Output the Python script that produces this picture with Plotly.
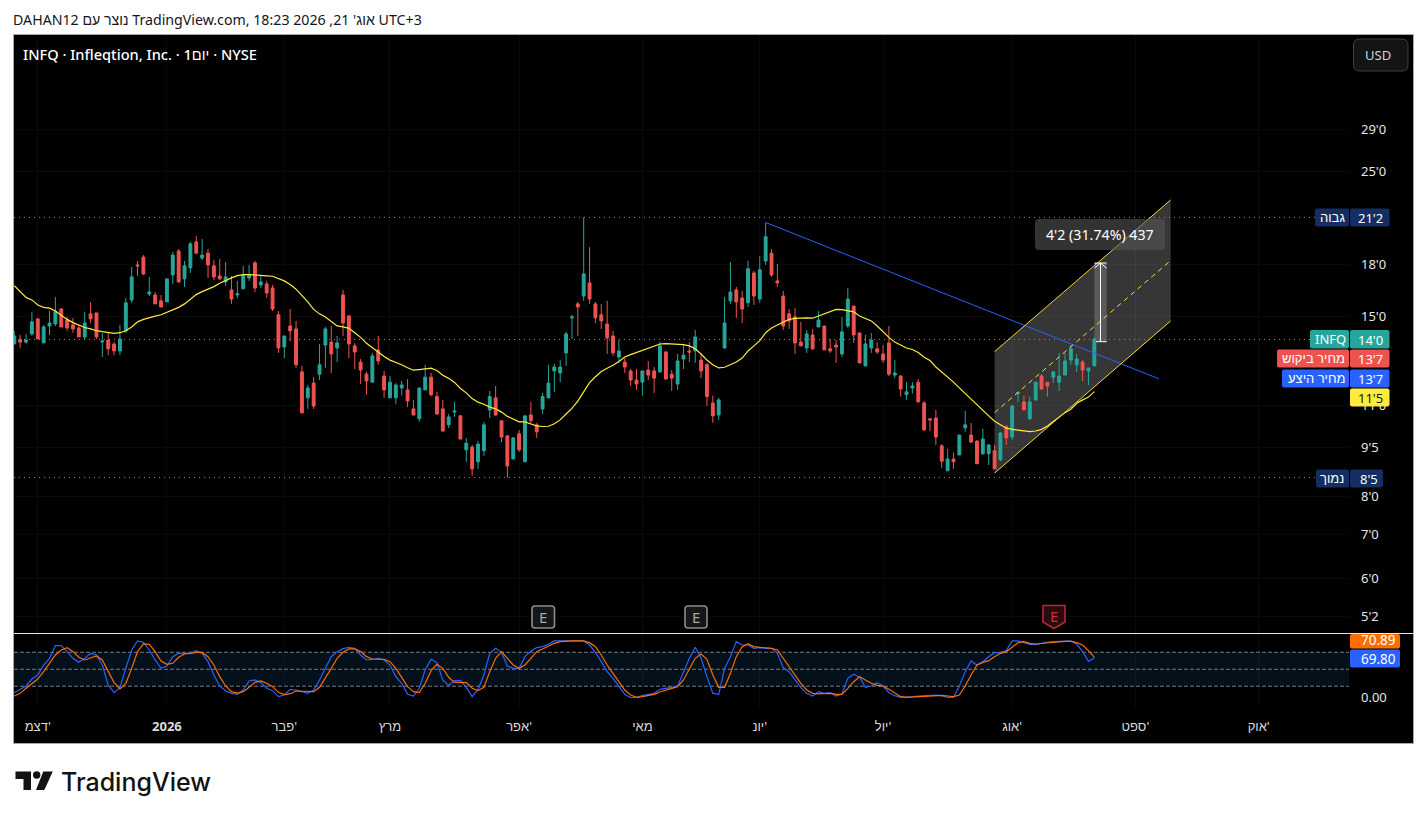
"""
INFQ daily chart with moving average, drawings and stochastic pane.
"""

import plotly.graph_objects as go
from plotly.subplots import make_subplots

WIDTH = 1427
HEIGHT = 819

# daily bars
open_px = [
    13.64, 13.86, 13.73, 14.13, 14.90, 13.69, 14.53, 14.63, 15.42, 14.84,
    14.58, 14.43, 13.98, 15.16, 15.21, 13.73, 13.83, 13.64, 13.31, 14.28,
    15.92, 18.00, 18.50, 16.26, 16.20, 15.87, 15.81, 17.38, 18.90, 17.14,
    17.82, 19.51, 18.44, 18.76, 17.94, 17.32, 16.96, 16.49, 16.20, 16.55,
    17.20, 18.13, 16.78, 16.84, 16.60, 15.11, 13.50, 14.53, 14.38, 12.37,
    11.29, 11.89, 12.27, 13.59, 13.73, 13.45, 16.20, 15.05, 13.55, 12.80,
    12.27, 11.93, 13.36, 12.19, 11.29, 11.29, 11.69, 11.61, 10.86, 10.49,
    11.61, 12.14, 11.34, 10.86, 10.27, 10.74, 10.60, 9.41, 9.50, 9.02,
    9.38, 10.82, 11.29, 10.42, 9.88, 9.11, 9.95, 9.02, 10.63, 10.27,
    10.86, 11.29, 12.41, 12.32, 13.22, 14.95, 15.70, 16.14, 16.90, 15.70,
    15.11, 14.63, 14.03, 13.03, 12.80, 12.41, 12.02, 11.93, 12.45, 12.41,
    12.37, 13.26, 12.27, 11.85, 12.94, 13.31, 13.31, 12.89, 12.68, 11.09,
    10.63, 13.45, 15.87, 16.49, 16.03, 15.76, 17.50, 15.97, 18.25, 18.76,
    17.02, 16.14, 15.16, 15.00, 13.73, 13.45, 14.08, 14.48, 14.53, 13.41,
    13.59, 13.17, 14.53, 15.58, 14.18, 12.63, 13.45, 13.41, 13.17, 13.69,
    12.23, 12.19, 11.42, 11.69, 11.93, 11.09, 10.49, 10.52, 9.54, 8.74,
    9.11, 9.24, 10.16, 9.91, 9.70, 9.28, 9.28, 9.38, 9.08, 10.20,
    9.84, 11.46, 11.13, 10.49, 11.21, 12.19, 11.93, 12.14, 11.93, 12.23,
    12.89, 12.68, 12.80, 12.41, 12.63,
]
high_px = [
    14.28, 14.08, 14.13, 15.27, 14.90, 14.58, 15.31, 16.08, 15.47, 15.00,
    14.95, 14.58, 15.27, 15.81, 15.21, 14.18, 14.23, 13.73, 14.58, 16.03,
    17.88, 18.25, 18.63, 17.26, 16.37, 16.20, 17.14, 18.83, 19.03, 18.25,
    19.51, 19.93, 19.71, 19.03, 18.31, 18.38, 18.19, 17.32, 17.02, 17.94,
    18.00, 18.25, 17.32, 17.02, 16.78, 15.31, 14.03, 15.42, 14.79, 12.63,
    11.81, 12.14, 13.64, 14.48, 14.53, 14.03, 16.49, 15.11, 13.69, 12.94,
    12.37, 13.22, 14.03, 12.41, 12.19, 11.89, 11.98, 12.06, 11.21, 11.69,
    12.68, 12.32, 11.53, 11.21, 10.67, 11.13, 10.63, 9.81, 9.57, 9.70,
    10.38, 11.57, 11.77, 10.42, 9.91, 9.84, 10.09, 10.60, 11.13, 10.34,
    11.49, 12.68, 12.72, 12.89, 14.23, 15.11, 15.81, 21.28, 19.15, 15.81,
    15.70, 15.87, 14.28, 13.83, 12.98, 12.49, 12.49, 12.41, 12.85, 12.58,
    13.73, 13.31, 12.45, 13.17, 13.64, 13.73, 14.33, 13.17, 12.76, 11.38,
    11.29, 16.08, 18.19, 16.66, 16.43, 18.25, 17.63, 18.57, 20.88, 19.03,
    18.07, 16.43, 15.42, 15.47, 14.74, 14.33, 14.38, 15.31, 14.53, 13.88,
    13.83, 15.00, 16.60, 15.58, 14.18, 14.08, 14.18, 13.73, 13.59, 14.53,
    12.89, 12.23, 11.93, 11.93, 12.06, 11.17, 10.49, 10.82, 9.60, 9.44,
    9.32, 9.91, 10.78, 10.34, 9.74, 10.13, 9.60, 9.57, 10.02, 10.27,
    11.01, 11.53, 11.38, 11.34, 11.93, 12.27, 11.93, 12.37, 13.22, 13.22,
    13.59, 13.17, 12.89, 12.54, 13.98,
]
low_px = [
    13.64, 13.45, 13.66, 14.03, 13.88, 13.69, 14.08, 14.53, 14.48, 14.29,
    14.18, 13.98, 13.83, 14.68, 13.88, 13.03, 13.12, 13.12, 13.12, 14.18,
    15.76, 17.32, 17.38, 16.14, 15.70, 15.53, 15.81, 16.84, 16.90, 16.66,
    17.50, 18.70, 18.31, 17.20, 17.08, 17.08, 16.72, 15.70, 16.03, 16.55,
    17.02, 16.37, 16.60, 16.03, 15.31, 13.22, 12.98, 13.78, 12.54, 10.71,
    10.86, 10.86, 12.02, 12.54, 12.32, 12.80, 14.03, 12.98, 12.49, 11.85,
    11.42, 11.93, 12.68, 11.29, 11.29, 11.05, 11.38, 10.93, 10.63, 10.38,
    11.61, 11.34, 10.63, 10.02, 10.16, 10.56, 9.77, 9.02, 8.59, 8.80,
    9.21, 10.52, 10.60, 9.67, 8.53, 9.11, 9.34, 9.02, 10.34, 9.81,
    10.67, 11.29, 11.53, 11.93, 12.63, 13.88, 14.03, 15.87, 15.70, 14.68,
    14.38, 13.17, 13.08, 12.76, 12.32, 11.77, 11.61, 11.38, 12.02, 11.49,
    12.32, 12.06, 11.57, 11.61, 12.49, 12.80, 12.76, 12.10, 10.97, 10.34,
    10.45, 13.41, 15.70, 14.95, 14.68, 15.53, 15.64, 15.76, 18.00, 17.26,
    16.66, 14.33, 14.38, 13.17, 13.55, 13.22, 13.36, 14.48, 13.36, 13.22,
    12.76, 13.03, 14.43, 13.69, 12.76, 12.63, 13.22, 13.17, 12.76, 12.19,
    12.10, 11.34, 11.21, 11.46, 11.13, 10.05, 10.05, 9.57, 8.83, 8.74,
    8.80, 9.24, 10.02, 9.63, 8.96, 9.24, 8.92, 8.80, 9.04, 9.57,
    9.74, 11.13, 10.82, 10.45, 11.17, 11.61, 11.34, 11.88, 11.57, 12.23,
    12.68, 12.37, 11.98, 11.81, 12.63,
]
close_px = [
    14.03, 13.73, 13.83, 14.74, 13.88, 14.48, 14.68, 15.28, 14.48, 14.43,
    14.38, 13.98, 14.68, 14.90, 13.98, 13.78, 13.41, 13.31, 13.88, 15.76,
    17.26, 17.94, 17.44, 16.37, 15.70, 15.53, 17.14, 18.63, 16.96, 17.94,
    19.38, 18.76, 18.63, 18.00, 17.26, 17.14, 17.26, 15.97, 16.26, 17.38,
    17.38, 16.60, 16.96, 16.31, 15.42, 13.45, 14.03, 14.28, 12.68, 10.71,
    11.69, 10.97, 12.68, 14.38, 13.17, 13.69, 14.68, 13.64, 13.26, 12.45,
    11.98, 13.08, 12.85, 11.61, 11.93, 11.81, 11.81, 11.17, 10.63, 11.69,
    12.14, 11.42, 10.67, 10.05, 10.56, 10.78, 9.77, 9.63, 8.80, 9.60,
    10.27, 11.34, 10.63, 9.84, 8.89, 9.81, 9.41, 10.60, 10.42, 10.02,
    11.34, 11.89, 12.58, 12.58, 14.13, 15.00, 15.53, 17.44, 15.97, 14.95,
    14.79, 13.93, 13.22, 13.31, 12.58, 12.02, 11.85, 12.41, 12.23, 12.10,
    13.55, 12.06, 12.10, 12.85, 13.12, 13.26, 13.98, 12.41, 11.34, 10.60,
    11.21, 14.68, 16.37, 15.81, 15.42, 17.76, 16.14, 17.69, 19.87, 17.38,
    16.90, 14.53, 14.79, 13.69, 13.55, 14.13, 13.41, 14.84, 13.36, 13.31,
    13.50, 14.23, 15.97, 14.08, 12.76, 13.64, 13.83, 13.26, 12.89, 12.27,
    12.32, 11.65, 11.53, 11.77, 11.13, 10.09, 10.45, 9.84, 9.04, 9.11,
    9.02, 9.91, 10.27, 9.67, 8.96, 9.77, 9.57, 8.80, 9.98, 9.81,
    10.97, 11.49, 10.82, 11.13, 11.93, 11.65, 11.77, 12.37, 12.19, 12.85,
    13.41, 12.94, 12.45, 12.54, 13.88,
]
moving_avg = [
    16.74, 16.41, 16.06, 15.92, 15.64, 15.51, 15.47, 15.31, 15.07, 14.87,
    14.70, 14.56, 14.45, 14.38, 14.29, 14.24, 14.21, 14.16, 14.19, 14.29,
    14.48, 14.74, 14.87, 14.97, 15.04, 15.11, 15.25, 15.37, 15.51, 15.70,
    15.96, 16.22, 16.39, 16.53, 16.68, 16.88, 17.06, 17.20, 17.34, 17.40,
    17.40, 17.36, 17.32, 17.32, 17.30, 17.16, 17.02, 16.80, 16.53, 16.16,
    15.81, 15.40, 15.16, 14.99, 14.76, 14.53, 14.48, 14.41, 14.19, 13.96,
    13.67, 13.45, 13.24, 13.05, 12.89, 12.79, 12.68, 12.55, 12.44, 12.47,
    12.51, 12.53, 12.43, 12.22, 12.09, 11.92, 11.67, 11.49, 11.26, 11.12,
    11.04, 10.93, 10.86, 10.74, 10.58, 10.49, 10.38, 10.38, 10.31, 10.23,
    10.21, 10.22, 10.31, 10.45, 10.67, 10.88, 11.16, 11.55, 11.91, 12.16,
    12.38, 12.53, 12.66, 12.83, 13.03, 13.14, 13.24, 13.33, 13.44, 13.55,
    13.64, 13.66, 13.64, 13.63, 13.61, 13.55, 13.41, 13.17, 12.89, 12.68,
    12.54, 12.57, 12.69, 12.80, 12.98, 13.31, 13.55, 13.80, 14.19, 14.43,
    14.58, 14.74, 14.87, 14.92, 14.95, 14.95, 14.93, 15.04, 15.16, 15.27,
    15.40, 15.39, 15.35, 15.27, 15.05, 14.92, 14.79, 14.53, 14.23, 13.96,
    13.73, 13.58, 13.45, 13.38, 13.24, 13.02, 12.87, 12.58, 12.37, 12.14,
    11.93, 11.69, 11.46, 11.21, 11.01, 10.80, 10.60, 10.40, 10.27, 10.15,
    10.11, 10.09, 10.05, 10.03, 10.05, 10.11, 10.23, 10.39, 10.57, 10.72,
    10.85, 11.08, 11.21, 11.32, 11.54,
]
stoch_k = [
    8.7, 14.6, 20.5, 32.8, 39.9, 57.5, 69.3, 91.6, 91.6, 81.1,
    69.3, 62.2, 69.3, 78.1, 75.2, 57.5, 22.2, 8.7, 18.1, 51.6,
    84.0, 100.0, 97.5, 84.0, 66.4, 51.6, 55.8, 72.2, 78.1, 78.1,
    78.1, 82.8, 78.1, 63.4, 39.9, 20.5, 12.2, 7.5, 5.8, 13.4,
    29.3, 31.1, 26.4, 16.4, 12.2, 1.6, 4.6, 14.6, 13.4, 10.5,
    7.5, 13.4, 31.1, 51.6, 72.2, 81.1, 86.4, 88.7, 86.9, 75.2,
    66.4, 67.5, 69.3, 66.4, 57.5, 36.9, 25.2, 5.8, 2.8, 16.4,
    48.7, 67.5, 61.6, 31.1, 21.6, 29.9, 30.5, 18.1, 1.6, 14.6,
    39.9, 78.1, 86.9, 79.9, 55.8, 51.6, 51.6, 72.2, 82.2, 88.1,
    89.9, 94.0, 100.0, 100.0, 100.0, 100.0, 100.0, 100.0, 92.8, 79.9,
    63.4, 45.8, 34.0, 19.3, 5.8, 0.0, 0.5, 3.4, 5.8, 7.5,
    14.6, 15.8, 18.1, 20.5, 44.6, 69.3, 88.7, 69.3, 36.9, 7.5,
    5.8, 51.6, 72.2, 98.7, 92.8, 92.8, 86.9, 88.1, 86.9, 86.9,
    78.1, 52.8, 45.8, 31.1, 17.5, 7.5, 2.8, 10.5, 7.5, 8.7,
    2.8, 6.4, 34.0, 41.1, 35.8, 18.1, 20.5, 26.4, 20.5, 8.7,
    3.4, 0.5, 0.5, 1.6, 2.8, 3.4, 4.6, 4.6, 3.4, 0.5,
    0.5, 20.5, 45.8, 64.6, 57.5, 63.4, 72.2, 79.3, 79.3, 82.8,
    100.0, 100.0, 96.9, 94.0, 93.4, 95.8, 98.1, 98.7, 98.7, 99.3,
    99.9, 94.0, 81.1, 64.0, 69.8,
]
stoch_d = [
    2.8, 7.5, 16.4, 25.2, 32.8, 45.8, 60.5, 75.2, 84.0, 88.1,
    81.1, 71.1, 66.4, 69.3, 73.4, 66.4, 45.8, 26.4, 15.2, 25.2,
    51.6, 81.1, 94.6, 94.0, 81.1, 64.6, 58.7, 60.5, 71.1, 76.9,
    78.1, 79.9, 79.9, 72.2, 57.5, 36.9, 20.5, 10.5, 8.1, 10.5,
    18.1, 26.9, 29.3, 25.2, 19.3, 9.3, 5.2, 6.9, 11.6, 11.6,
    10.5, 10.5, 18.1, 34.0, 51.6, 69.3, 79.9, 85.8, 85.8, 81.1,
    72.2, 68.1, 68.1, 67.5, 63.4, 51.6, 35.8, 19.3, 10.5, 8.7,
    25.2, 47.5, 58.7, 51.6, 35.8, 26.9, 26.9, 26.4, 16.4, 12.2,
    18.1, 45.8, 69.3, 81.1, 69.3, 57.5, 51.6, 57.5, 69.3, 81.1,
    85.8, 91.1, 95.8, 98.7, 100.0, 100.0, 100.0, 100.0, 96.9, 89.9,
    75.2, 57.5, 42.8, 28.1, 13.4, 4.6, 0.5, 1.6, 3.4, 5.8,
    9.9, 13.4, 16.4, 19.3, 31.1, 51.6, 69.3, 76.9, 67.5, 39.9,
    18.1, 18.1, 42.8, 72.2, 89.9, 94.6, 89.9, 88.7, 87.5, 86.9,
    84.0, 69.3, 54.6, 39.9, 25.2, 13.4, 7.5, 6.4, 7.5, 7.5,
    5.8, 5.8, 16.4, 28.1, 36.9, 31.1, 25.2, 21.6, 20.5, 14.6,
    7.5, 1.6, 0.5, 1.1, 1.6, 2.8, 3.4, 4.6, 4.0, 2.8,
    1.6, 4.6, 20.5, 39.9, 57.5, 62.2, 65.2, 72.2, 78.1, 81.1,
    89.9, 97.0, 98.7, 95.8, 94.6, 95.8, 97.0, 97.5, 98.7, 99.3,
    99.3, 96.9, 92.8, 82.8, 70.9,
]
bars = list(range(len(close_px)))

# axis labels
month_bars = [4, 26, 46, 64, 86, 107, 127, 148, 170, 191, 212]
month_labels = ["דצמ'", "<b>2026</b>", "פבר'", "מרץ", "אפר'", "מאי", "יונ'", "יול'", "אוג'", "ספט'", "אוק'"]
price_ticks = [29, 25, 18, 15, 11, 9.5, 8, 7, 6, 5.25]
price_tick_labels = ["29'0", "25'0", "18'0", "15'0", "11'0", "9'5", "8'0", "7'0", "6'0", "5'2"]
stoch_levels = [20, 50, 80]

# reference levels
high_level = 21.27
low_level = 8.54
last_level = 13.86

# drawings
trend_x = [128.06, 195.0]
trend_y = [20.88, 12.07]
channel_x = [167.0, 197.0]
channel_upper = [13.28, 22.61]
channel_mid = [10.72, 18.28]
channel_lower = [8.67, 14.79]
measure_x = [184.0, 186.1]
measure_y = [13.75, 18.12]

UP = "#26a69a"
DOWN = "#ef5350"
BLUE = "#2962ff"
ORANGE = "#ff6d00"
YELLOW = "#f5d93a"
NAVY = "#142e61"
GRID = "rgba(255,255,255,0.035)"
FONT = "Noto Sans, Liberation Sans, DejaVu Sans, sans-serif"


def px(x):
    return x / WIDTH


def py(y):
    return 1 - y / HEIGHT


def rounded_path(x0, y0, x1, y1, r):
    return (
        f"M {px(x0 + r)},{py(y0)} L {px(x1 - r)},{py(y0)} Q {px(x1)},{py(y0)} {px(x1)},{py(y0 + r)} "
        f"L {px(x1)},{py(y1 - r)} Q {px(x1)},{py(y1)} {px(x1 - r)},{py(y1)} "
        f"L {px(x0 + r)},{py(y1)} Q {px(x0)},{py(y1)} {px(x0)},{py(y1 - r)} "
        f"L {px(x0)},{py(y0 + r)} Q {px(x0)},{py(y0)} {px(x0 + r)},{py(y0)} Z"
    )


def add_box(fig, x0, y0, x1, y1, color, r=2, border=None, border_width=1):
    fig.add_shape(
        type="path", path=rounded_path(x0, y0, x1, y1, r), xref="paper", yref="paper",
        fillcolor=color, line=dict(color=border or color, width=border_width if border else 0), layer="above",
    )


def add_text(fig, x, y, text, color="#ffffff", size=13, anchor="center", family=FONT, weight=None):
    fig.add_annotation(
        x=px(x), y=py(y), xref="paper", yref="paper", text=text, showarrow=False,
        xanchor=anchor, yanchor="middle", borderpad=0,
        font=dict(color=color, size=size, family=family, weight=weight),
    )


fig = make_subplots(rows=2, cols=1, shared_xaxes=True, vertical_spacing=0)

# main pane
fig.add_trace(go.Candlestick(
    x=bars, open=open_px, high=high_px, low=low_px, close=close_px,
    increasing=dict(line=dict(color=UP, width=1), fillcolor=UP),
    decreasing=dict(line=dict(color=DOWN, width=1), fillcolor=DOWN),
    hoverinfo="skip",
), row=1, col=1)
fig.add_trace(go.Scatter(x=bars, y=moving_avg, mode="lines", line=dict(color="#ffeb3b", width=1.2)), row=1, col=1)

# blue trend line
fig.add_trace(go.Scatter(x=trend_x, y=trend_y, mode="lines", line=dict(color=BLUE, width=1)), row=1, col=1)

# rising channel
fig.add_trace(go.Scatter(x=channel_x, y=channel_upper, mode="lines", line=dict(color=YELLOW, width=1)), row=1, col=1)
fig.add_trace(go.Scatter(x=channel_x, y=channel_lower, mode="lines", line=dict(color=YELLOW, width=1)), row=1, col=1)
fig.add_trace(go.Scatter(x=channel_x, y=channel_mid, mode="lines", line=dict(color=YELLOW, width=1, dash="5px,4px")), row=1, col=1)

# measure arrow
arrow_x = (measure_x[0] + measure_x[1]) / 2
fig.add_trace(go.Scatter(
    x=[arrow_x, arrow_x, None, measure_x[0], measure_x[1], None, measure_x[0] + 0.3, measure_x[1], None,
       measure_x[0], arrow_x, measure_x[1]],
    y=[measure_y[0], measure_y[1], None, measure_y[1], measure_y[1], None, measure_y[0], measure_y[0], None,
       17.79, measure_y[1], 17.79],
    mode="lines", line=dict(color="#ffffff", width=1),
), row=1, col=1)

# stochastic pane
fig.add_trace(go.Scatter(x=bars, y=stoch_k, mode="lines", line=dict(color=BLUE, width=1.2)), row=2, col=1)
fig.add_trace(go.Scatter(x=bars, y=stoch_d, mode="lines", line=dict(color=ORANGE, width=1.2)), row=2, col=1)

# panel background and border
fig.add_shape(type="rect", x0=px(13.5), x1=px(1413.5), y0=py(743.5), y1=py(34.5), xref="paper", yref="paper",
              fillcolor="#000000", line=dict(color="#a8a8a8", width=1), layer="below")

# shaded channel and measure band go under the candles
fig.add_shape(
    type="path", xref="x", yref="y", layer="below", fillcolor="#363636", line=dict(width=0),
    path=(f"M {channel_x[0]},{channel_upper[0]} L {channel_x[1]},{channel_upper[1]} "
          f"L {channel_x[1]},{channel_lower[1]} L {channel_x[0]},{channel_lower[0]} Z"),
)
fig.add_shape(type="rect", xref="x", yref="y", layer="below", fillcolor="#5a5a5a", line=dict(width=0),
              x0=measure_x[0], x1=measure_x[1], y0=measure_y[0], y1=measure_y[1])

# high, low and last price levels
for level, color, end in [(high_level, "#8a8a8a", 222.5), (low_level, "#8a8a8a", 222.5), (last_level, "#d9706c", 221.0)]:
    fig.add_shape(type="line", xref="x", yref="y", layer="below", x0=-0.05, x1=end, y0=level, y1=level,
                  line=dict(color=color, width=1, dash="1px,4px"))

# stochastic band
fig.add_shape(type="rect", xref="x2", yref="y2", layer="below", fillcolor="#04101a", line=dict(width=0),
              x0=-0.05, x1=227.38, y0=stoch_levels[0], y1=stoch_levels[2])
for level in stoch_levels:
    fig.add_shape(type="line", xref="x2", yref="y2", layer="below", x0=-0.05, x1=227.38, y0=level, y1=level,
                  line=dict(color="#787b86", width=1, dash="4px,2px"))

# pane separator
fig.add_shape(type="line", x0=px(14), x1=px(1413), y0=py(633.5), y1=py(633.5), xref="paper", yref="paper",
              line=dict(color="#e8e8e8", width=1), layer="above")

# price labels on the right
add_box(fig, 1315, 208.5, 1349, 226.5, NAVY)
add_box(fig, 1350, 208.5, 1389.5, 226.5, NAVY)
add_text(fig, 1332, 217, "גבוה")
add_text(fig, 1370, 218, "21'2")

add_box(fig, 1316, 469.5, 1349, 487.5, NAVY)
add_box(fig, 1350, 469.5, 1383, 487.5, NAVY)
add_text(fig, 1332, 478, "נמוך")
add_text(fig, 1369, 479, "8'5")

add_box(fig, 1310, 330, 1349, 348.5, UP)
add_box(fig, 1350, 330, 1389.5, 348.5, UP)
add_text(fig, 1330, 338.5, "INFQ")
add_text(fig, 1370, 340, "14'0")

add_box(fig, 1277, 349.5, 1349, 367.5, DOWN)
add_box(fig, 1350, 349.5, 1389.5, 367.5, DOWN)
add_text(fig, 1313, 357.5, "מחיר ביקוש")
add_text(fig, 1370, 359, "13'7")

add_box(fig, 1282, 369.5, 1349, 387.5, BLUE)
add_box(fig, 1350, 369.5, 1389.5, 387.5, BLUE)
add_text(fig, 1316, 378, "מחיר היצע")
add_text(fig, 1370, 379, "13'7")

add_box(fig, 1350, 388.5, 1389.5, 406.5, "#ffeb3b")
add_text(fig, 1370, 398, "11'5", color="#131722")

# stochastic value labels
add_box(fig, 1350, 634, 1400, 648.5, ORANGE)
add_text(fig, 1378, 640, "70.89", size=13.5)
add_box(fig, 1350, 649.5, 1400, 667.5, BLUE)
add_text(fig, 1378, 659, "69.80", size=13.5)

# measure label
add_box(fig, 1035, 219, 1165, 250, "rgba(85,85,85,0.6)", r=4)
add_text(fig, 1100, 234, "4'2 (31.74%) 437", size=14.2)

# USD button
add_box(fig, 1353.5, 39, 1408, 71, "#141414", r=6, border="#3f3f3f")
add_text(fig, 1378, 55, "USD", color="#d1d4dc", size=13)

# earnings markers
add_box(fig, 532, 606, 554.5, 628, "#161616", r=3, border="#8c8c8c", border_width=1.6)
add_text(fig, 543, 616.5, "E", color="#a6a6a6", size=15)
add_box(fig, 685, 606, 707, 628, "#161616", r=3, border="#8c8c8c", border_width=1.6)
add_text(fig, 696, 616.5, "E", color="#a6a6a6", size=15)
fig.add_shape(
    type="path", xref="paper", yref="paper", layer="above", fillcolor="#2a0a0e", line=dict(color="#b22833", width=1.6),
    path=(f"M {px(1043)},{py(605.5)} L {px(1065)},{py(605.5)} L {px(1065)},{py(622)} "
          f"L {px(1054)},{py(628.5)} L {px(1043)},{py(622)} Z"),
)
add_text(fig, 1054, 615.5, "E", color="#c9303e", size=15)

# header and footer
add_text(fig, 12, 19, "DAHAN12 נוצר עם TradingView.com, אוג' 21, 2026 18:23 UTC+3", color="#131722", size=14.2, anchor="left")
add_text(fig, 22, 54, "INFQ · Infleqtion, Inc. · 1יום · NYSE", size=14.6, anchor="left", weight=500)

# TradingView logo
logo_color = "#131313"
fig.add_shape(
    type="path", xref="paper", yref="paper", layer="above", fillcolor=logo_color, line=dict(width=0),
    path=(f"M {px(15.5)},{py(771.5)} L {px(31)},{py(771.5)} L {px(31)},{py(790)} L {px(23.5)},{py(790)} "
          f"L {px(23.5)},{py(779)} L {px(15.5)},{py(779)} Z"),
)
fig.add_shape(
    type="circle", xref="paper", yref="paper", layer="above", fillcolor=logo_color, line=dict(width=0),
    x0=px(33), x1=px(40.4), y0=py(778.7), y1=py(771.3),
)
fig.add_shape(
    type="path", xref="paper", yref="paper", layer="above", fillcolor=logo_color, line=dict(width=0),
    path=(f"M {px(43.3)},{py(771.5)} L {px(52.8)},{py(771.5)} L {px(44.3)},{py(790)} L {px(36)},{py(790)} Z"),
)
add_text(fig, 60, 781.5, "TradingView", color=logo_color, size=25, anchor="left", family="Inter, sans-serif", weight=500)

# axes
fig.update_xaxes(
    range=[-0.05, 227.38], tickmode="array", tickvals=month_bars, ticktext=month_labels,
    showgrid=True, gridcolor=GRID, zeroline=False, showline=False, ticks="", rangeslider_visible=False,
)
fig.update_xaxes(domain=[px(14), px(1349)], row=1, col=1, showticklabels=False)
fig.update_xaxes(domain=[px(14), px(1349)], row=2, col=1, showticklabels=True, ticklabelstandoff=9,
                 tickfont=dict(color="#dbdbdb", size=13, family=FONT))
fig.update_yaxes(
    type="log", range=[0.69438, 1.60564], domain=[py(633), py(35)], side="right",
    tickmode="array", tickvals=price_ticks, ticktext=price_tick_labels, ticks="",
    tickfont=dict(color="#e6e6e6", size=13, family=FONT), ticklabelstandoff=11,
    showgrid=True, gridcolor=GRID, zeroline=False, showline=False, row=1, col=1,
)
fig.update_yaxes(
    range=[-18.35, 112.2], domain=[py(708), py(634)], side="right",
    tickmode="array", tickvals=[0], ticktext=["0.00"], ticks="",
    tickfont=dict(color="#e6e6e6", size=13, family=FONT), ticklabelstandoff=11,
    showgrid=False, zeroline=False, showline=False, row=2, col=1,
)

fig.update_layout(
    width=WIDTH, height=HEIGHT, margin=dict(l=0, r=0, t=0, b=0),
    paper_bgcolor="#ffffff", plot_bgcolor="rgba(0,0,0,0)",
    showlegend=False, hovermode=False, boxgap=0.3,
    font=dict(family=FONT),
)

fig.write_html("out.html", config={"displayModeBar": False},
               post_script="document.body.style.margin='0';document.body.style.overflow='hidden';")
